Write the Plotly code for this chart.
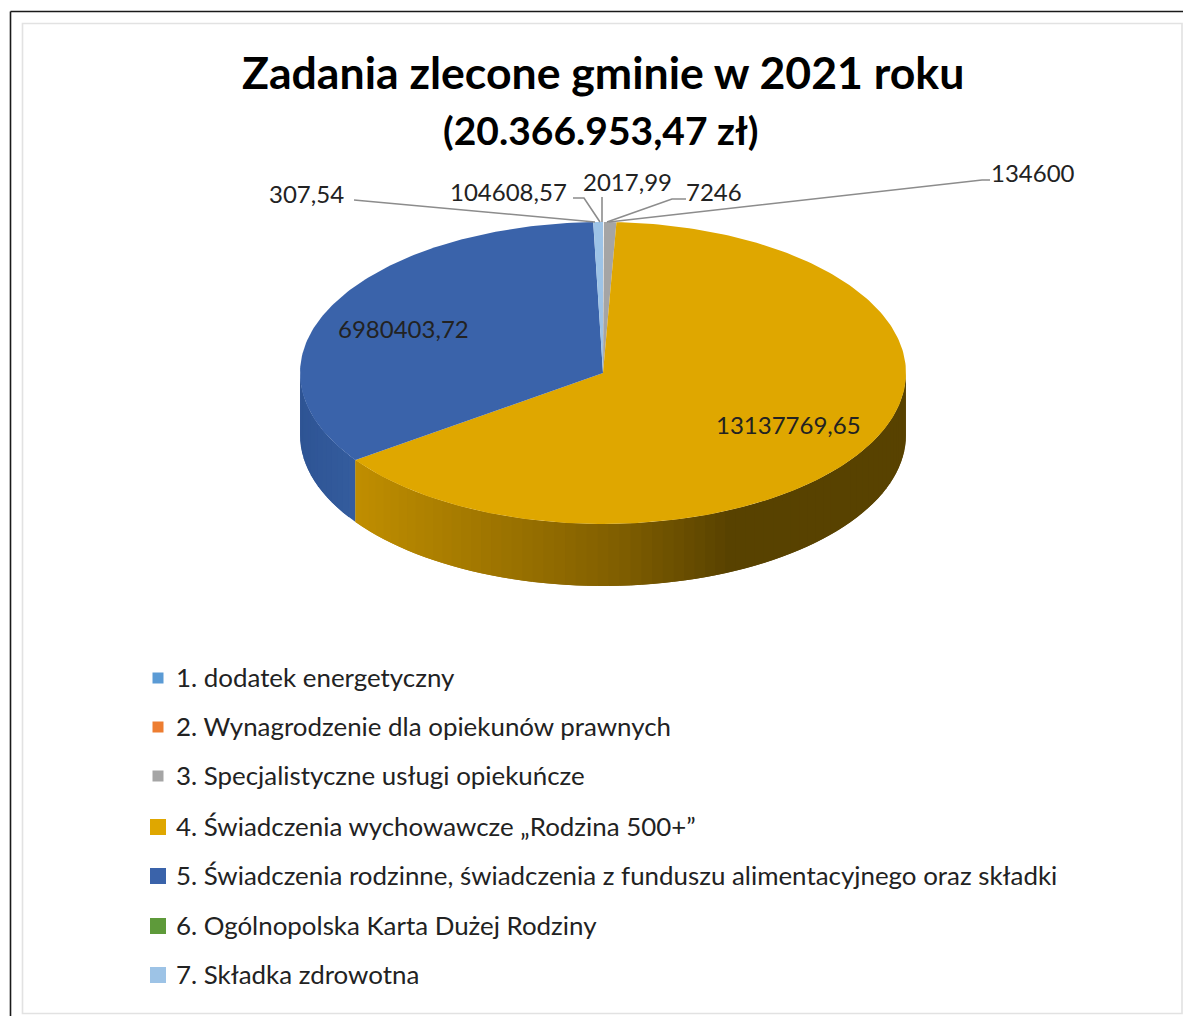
import numpy as np
import plotly.graph_objects as go

# Data, in the pie's clockwise order starting at 12 o'clock
categories = [
    "1. dodatek energetyczny",
    "2. Wynagrodzenie dla opiekunów prawnych",
    "3. Specjalistyczne usługi opiekuńcze",
    "4. Świadczenia wychowawcze „Rodzina 500+”",
    "5. Świadczenia rodzinne, świadczenia z funduszu alimentacyjnego oraz składki",
    "6. Ogólnopolska Karta Dużej Rodziny",
    "7. Składka zdrowotna",
]
values = [7246, 2017.99, 134600, 13137769.65, 6980403.72, 307.54, 104608.57]
value_labels = ["7246", "2017,99", "134600", "13137769,65", "6980403,72", "307,54", "104608,57"]
colors = ["#5b9bd5", "#ed7d31", "#a5a5a5", "#dfa700", "#3a63aa", "#5e9a3a", "#9dc3e6"]
title_lines = ["Zadania zlecone gminie w 2021 roku", "(20.366.953,47 zł)"]

# Layout
W, H = 1183, 1016
CX, CY, RX, RY, DEPTH = 603, 373, 303, 151, 62
FONT = "Lato"
TXT = "#222222"

fig = go.Figure()


def poly(x, y, color):
    fig.add_trace(go.Scatter(
        x=x, y=y, mode="lines", fill="toself", fillcolor=color,
        line=dict(color=color, width=0), hoverinfo="skip", showlegend=False))


def pt(theta):
    return CX + RX * np.sin(theta), CY - RY * np.cos(theta)


def mix(a, b, t):
    t = float(np.clip(t, 0, 1))
    return "rgb(%d,%d,%d)" % tuple(round(p + (q - p) * t) for p, q in zip(a, b))


frac = np.array(values) / np.sum(values)
edges = np.concatenate([[0], np.cumsum(frac)]) * 2 * np.pi

# Side wall: only the front half (90deg..270deg clockwise from the top).
# Strips overlap the next one, and are painted so the seams stay invisible.
grad_left, grad_mid, grad_right = (192, 142, 0), (128, 94, 0), (88, 66, 0)
for i in (4, 3):
    a0 = max(edges[i], np.pi / 2)
    a1 = min(edges[i + 1], 3 * np.pi / 2)
    if a1 <= a0:
        continue
    n = 70 if i == 3 else 16
    steps = np.linspace(a0, a1, n + 1)
    for k in range(n):
        th = np.linspace(steps[k], steps[min(k + 2, n)], 6)
        x, y = pt(th)
        xc, _ = pt((steps[k] + steps[k + 1]) / 2)
        xm = float(xc)
        if i == 3:
            if xm < 620:
                c = mix(grad_left, grad_mid, (xm - 355) / 265)
            else:
                c = mix(grad_mid, grad_right, (xm - 620) / 110)
        else:
            c = mix((46, 84, 148), (52, 92, 158), (xm - 300) / 55)
        poly(np.r_[x, x[::-1]], np.r_[y, y[::-1] + DEPTH], c)

# Top face
for i, c in enumerate(colors):
    th = np.linspace(edges[i], edges[i + 1], max(3, int(np.degrees(edges[i + 1] - edges[i])) + 2))
    x, y = pt(th)
    poly(np.r_[CX, x, CX], np.r_[CY, y, CY], c)

# Leader lines (polylines)
leaders = [
    ([354, 595], [200, 222]),
    ([573, 584, 600], [198, 198, 222]),
    ([602, 602], [197, 222]),
    ([686, 672, 607], [199, 199, 222]),
    ([990, 982, 609], [180, 180, 222]),
]
for lx, ly in leaders:
    fig.add_trace(go.Scatter(x=lx, y=ly, mode="lines", line=dict(color="#8c8c8c", width=1.6),
                             hoverinfo="skip", showlegend=False))

ann = []


def text(x, y, s, size, anchor="left", bold=False, color=TXT):
    ann.append(dict(x=x, y=y, xref="x", yref="y", text=f"<b>{s}</b>" if bold else s, showarrow=False,
                    xanchor=anchor, yanchor="middle", font=dict(family=FONT, size=size, color=color)))


text(603, 71, title_lines[0], 44.6, "center", True, "#000000")
text(601, 130, title_lines[1], 39, "center", True, "#000000")

label_pos = {
    "307,54": (267, 193), "104608,57": (448, 191), "2017,99": (581, 181), "7246": (684, 191),
    "134600": (989, 172), "13137769,65": (714, 424), "6980403,72": (336, 328),
}
for lab in value_labels:
    lx, ly = label_pos[lab]
    text(lx, ly, lab, 24)

# Legend
legend_y = [677, 726, 775, 826, 875, 925, 974]
legend_marker_y = [678, 727, 776, 827, 876, 926, 975]
legend_sizes = [11, 11, 11, 16, 16, 16, 16]
for c, ly, my, ms, cat in zip(colors, legend_y, legend_marker_y, legend_sizes, categories):
    fig.add_trace(go.Scatter(x=[158], y=[my], mode="markers",
                             marker=dict(symbol="square", size=ms, color=c, line=dict(width=0)),
                             hoverinfo="skip", showlegend=False))
    text(174, ly, cat, 25.9)

shapes = [
    # outer black frame (open on the right and at the bottom)
    dict(type="line", x0=10.5, x1=1183, y0=11.5, y1=11.5, line=dict(color="#1a1a1a", width=1.6)),
    dict(type="line", x0=10.5, x1=10.5, y0=11.5, y1=1016, line=dict(color="#1a1a1a", width=1.6)),
    # inner chart frame
    dict(type="rect", x0=22.5, x1=1182, y0=23.5, y1=1013.5, line=dict(color="#e2e2e2", width=1.6),
         fillcolor="rgba(0,0,0,0)"),
]

fig.update_layout(
    width=W, height=H, margin=dict(l=0, r=0, t=0, b=0), showlegend=False,
    paper_bgcolor="#ffffff", plot_bgcolor="#ffffff", annotations=ann, shapes=shapes,
    xaxis=dict(range=[0, W], visible=False, fixedrange=True),
    yaxis=dict(range=[H, 0], visible=False, fixedrange=True),
)
fig.write_html("out.html", config=dict(displayModeBar=False),
               post_script="document.body.style.margin='0';document.documentElement.style.overflow='hidden';")
